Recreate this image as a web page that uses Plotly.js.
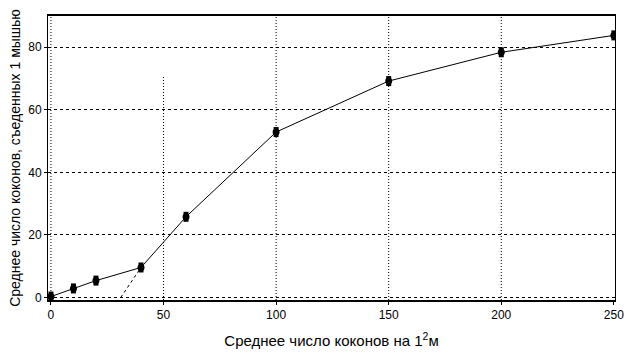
<!DOCTYPE html>
<html><head><meta charset="utf-8">
<script src="https://cdn.plot.ly/plotly-3.0.1.min.js"></script>
<style>body{margin:0;background:#fff}</style>
</head><body>
<div id="chart" style="width:637px;height:355px"></div>
<script>
const density = [0, 10, 20, 40, 60, 100, 150, 200, 250];
const eaten = [0.3, 2.9, 5.4, 9.6, 25.8, 52.9, 69.2, 78.4, 83.8];
const tangentX = [31, 40];
const tangentY = [0, 9.6];
const xTicks = [0, 50, 100, 150, 200, 250];
const yTicks = [0, 20, 40, 60, 80];
const fullGridX = [0, 100, 150, 200];
const partialGridX = 50;
const partialGridTop = 71;

const shapes = [];
fullGridX.forEach(v => shapes.push({type:'line', xref:'x', yref:'paper', x0:v, x1:v, y0:0, y1:1,
  line:{color:'#000', width:1, dash:'1px,2px'}, layer:'below'}));
shapes.push({type:'line', xref:'x', yref:'y', x0:partialGridX, x1:partialGridX, y0:-0.8, y1:partialGridTop,
  line:{color:'#000', width:1, dash:'1px,2px'}, layer:'below'});

const traces = [
  {x: tangentX, y: tangentY, mode:'lines', line:{color:'#000', width:1, dash:'3px,3px'}, hoverinfo:'skip'},
  {x: density, y: eaten, mode:'lines+markers', line:{color:'#000', width:1},
   marker:{color:'#000', size:7, symbol:'circle'},
   error_y:{type:'constant', value:1.6, color:'#000', thickness:5, width:0}}
];

const layout = {
  width:637, height:355,
  margin:{l:48, r:22, t:16, b:55},
  showlegend:false,
  paper_bgcolor:'#fff', plot_bgcolor:'#fff',
  font:{family:'Liberation Sans, Arial, sans-serif', size:12, color:'#000'},
  xaxis:{range:[-1.3, 250.5], tickvals:xTicks, ticktext:xTicks.map(String),
    showgrid:false, zeroline:false, showline:true, linecolor:'#000', linewidth:2, mirror:true,
    ticks:'outside', ticklen:3, tickcolor:'#000',
    title:{text:'Среднее число коконов на 1<sup>2</sup>м', font:{size:15}, standoff:14}},
  yaxis:{range:[-0.8, 90], tickvals:yTicks, ticktext:yTicks.map(String),
    showgrid:true, gridcolor:'#000', griddash:'3px,3px', gridwidth:1,
    zeroline:false, showline:true, linecolor:'#000', linewidth:1, mirror:true,
    ticks:'outside', ticklen:3, tickcolor:'#000',
    title:{text:'Среднее число коконов, съеденных 1 мышью', font:{size:14}, standoff:4}},
  shapes: shapes
};
Plotly.newPlot('chart', traces, layout, {displayModeBar:false, staticPlot:true});
</script>
</body></html>
